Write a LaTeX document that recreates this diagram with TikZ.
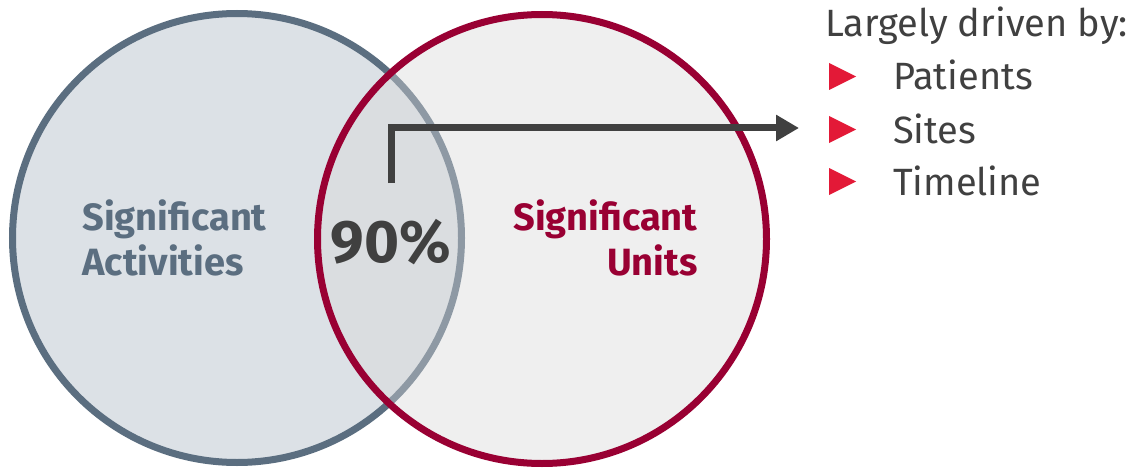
\documentclass[tikz,border=0pt]{standalone}
\usepackage{fontspec}
\setmainfont{Fira Sans}
\usetikzlibrary{arrows.meta}

\definecolor{actline}{HTML}{5B6E80}
\definecolor{actfill}{HTML}{DCE1E6}
\definecolor{unitline}{HTML}{990033}
\definecolor{unitfill}{HTML}{D8D8D8}
\definecolor{darktext}{HTML}{404040}
\definecolor{bulletred}{HTML}{E31937}

\tikzset{
	venn/.style={circle, minimum size=449pt, inner sep=0pt, line width=7pt},
	label/.style={font=\fontsize{38}{45}\selectfont\bfseries, align=left},
	listtext/.style={font=\fontsize{38}{45}\selectfont, text=darktext, anchor=base west, inner sep=0pt}
}

\begin{document}
\begin{tikzpicture}[x=1pt, y=-1pt]
	\useasboundingbox (0,0) rectangle (1129,468);
	
	%the two sets
	\node[venn, draw=actline, fill=actfill] (acts) at (237,238) {};
	\node[venn, draw=unitline, fill=unitfill, fill opacity=0.41] (units) at (542,239) {};
	
	%base of a two line node sits on its last line
	\node[label, text=actline, anchor=base west] (actlabel) at (79,275) {Significant\\Activities};
	\node[label, text=unitline, anchor=base east, align=right] (unitlabel) at (701,275) {Significant\\Units};
	\node[font=\fontsize{60}{60}\selectfont\bfseries, text=darktext, anchor=base, inner sep=0pt] (pct) at (391,262) {90\%};
	
	%pointer to the drivers
	\coordinate (tail) at (391,183);
	\coordinate (tip) at (799,128);
	\draw[darktext, line width=7pt, -{Triangle[length=23pt, width=25pt]}] (tail) |- (tip);
	
	\node[listtext] (head) at (825,37) {Largely driven by:};
	\foreach \y/\item in {90/Patients, 143/Sites, 195/Timeline}{
		\fill[bulletred] (829,\y-27) -- (856,\y-13.5) -- (829,\y) -- cycle;
		\node[listtext] (\item) at (893,\y) {\item};
	}
\end{tikzpicture}
\end{document}
